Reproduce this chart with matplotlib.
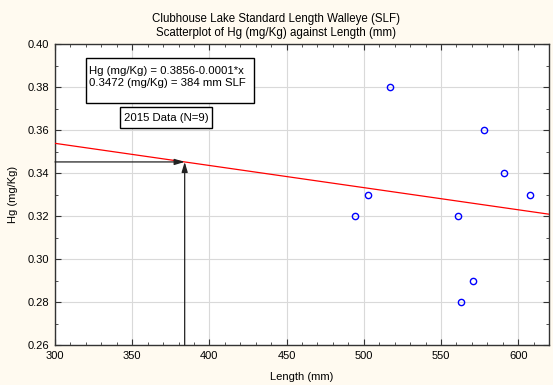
import numpy as np
import matplotlib
matplotlib.use("Agg")
import matplotlib.pyplot as plt
from matplotlib.ticker import MultipleLocator, FormatStrFormatter
from matplotlib.patches import Rectangle

plt.rcParams['font.family'] = ['Liberation Sans', 'DejaVu Sans']

# data
length_mm = [494.6, 502.6, 517.0, 561.2, 562.9, 570.5, 577.9, 590.9, 608.0]
hg_mgkg = [0.32, 0.33, 0.38, 0.32, 0.28, 0.29, 0.36, 0.34, 0.33]

# regression line as drawn
intercept = 0.3847
slope = -0.000103
slf_length = 384

fig = plt.figure(figsize=(5.53, 3.85), dpi=100, facecolor='#fffaf0')
ax = fig.add_axes([55 / 553, 40 / 385, 494 / 553, 301 / 385])
ax.set_facecolor('white')

ax.set_xlim(300, 620)
ax.set_ylim(0.26, 0.40)
ax.xaxis.set_major_locator(MultipleLocator(50))
ax.xaxis.set_minor_locator(MultipleLocator(10))
ax.yaxis.set_major_locator(MultipleLocator(0.02))
ax.yaxis.set_minor_locator(MultipleLocator(0.01))
ax.yaxis.set_major_formatter(FormatStrFormatter('%.2f'))
ax.tick_params(which='both', direction='in', top=True, right=True,
               color='#333333', labelsize=8, pad=4)
ax.tick_params(which='major', length=4)
ax.tick_params(which='minor', length=2)
ax.grid(True, which='major', color='#d9d9d9', lw=0.8)
ax.set_axisbelow(True)
for s in ax.spines.values():
    s.set_color('#333333')
    s.set_linewidth(1.0)

xl = np.array([300, 620])
ax.plot(xl, intercept + slope * xl, color='red', lw=0.9, zorder=3)

ax.plot(length_mm, hg_mgkg, 'o', mfc='none', mec='blue', ms=4.5, mew=1.0,
        zorder=4)

yhit = intercept + slope * slf_length
arr = dict(arrowstyle='-|>,head_length=0.6,head_width=0.18', color='#222222',
           lw=0.9, shrinkA=0, shrinkB=0)
ax.annotate('', xy=(slf_length, yhit), xytext=(300, yhit), arrowprops=arr,
            zorder=5)
ax.annotate('', xy=(slf_length, yhit), xytext=(slf_length, 0.26),
            arrowprops=arr, zorder=5)

# text boxes
ax.add_patch(Rectangle((0.063, 0.804), 0.340, 0.150, transform=ax.transAxes,
                       fc='white', ec='black', lw=1.0, zorder=6))
ax.text(0.068, 0.927, 'Hg (mg/Kg) = 0.3856-0.0001*x\n0.3472 (mg/Kg) = 384 mm SLF',
        transform=ax.transAxes, fontsize=8.2, va='top', ha='left',
        linespacing=1.2, zorder=7)
ax.add_patch(Rectangle((0.132, 0.721), 0.186, 0.070, transform=ax.transAxes,
                       fc='white', ec='black', lw=1.0, zorder=6))
ax.text(0.225, 0.755, '2015 Data (N=9)', transform=ax.transAxes,
        fontsize=8.2, va='center', ha='center', zorder=7)

fig.text(0.5, 0.951, 'Clubhouse Lake Standard Length Walleye (SLF)',
         ha='center', va='center', fontsize=8.3)
fig.text(0.5, 0.915, 'Scatterplot of Hg (mg/Kg) against Length (mm)',
         ha='center', va='center', fontsize=8.3)

ax.set_xlabel('Length (mm)', fontsize=8, labelpad=8)
ax.set_ylabel('Hg (mg/Kg)', fontsize=8, labelpad=7)

fig.savefig('out.png', dpi=100, facecolor=fig.get_facecolor())
